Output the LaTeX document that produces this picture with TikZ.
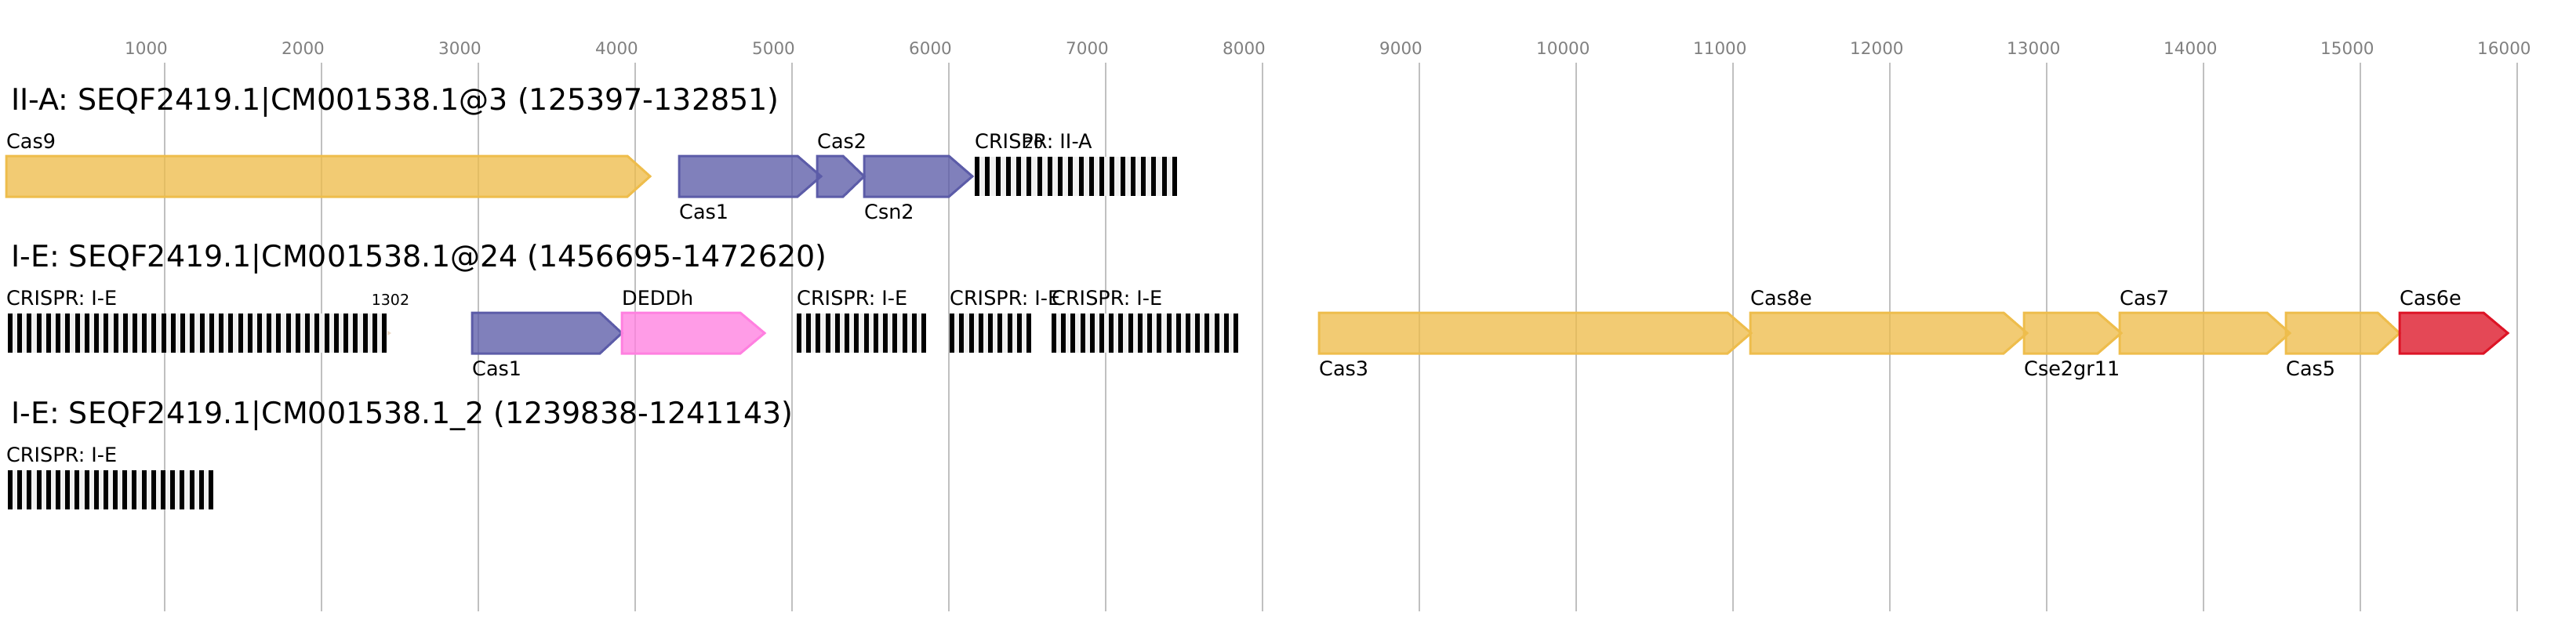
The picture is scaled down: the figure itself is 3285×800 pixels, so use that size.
\documentclass[tikz,border=0pt]{standalone}
\usepackage{fontspec}
\setmainfont{DejaVu Sans}
\definecolor{geneyel}{HTML}{EEBD4C}
\definecolor{geneblue}{HTML}{5C5CA8}
\definecolor{genepink}{HTML}{FF80E0}
\definecolor{genered}{HTML}{DD1426}
\definecolor{crbg}{HTML}{F0F0F0}
\definecolor{gridgray}{HTML}{C0C0C0}

\begin{document}
\begin{tikzpicture}[x=1pt, y=-1pt,
    gene/.style={line width=3pt, line join=miter, fill opacity=0.78},
    yel/.style={gene, draw=geneyel, fill=geneyel},
    blu/.style={gene, draw=geneblue, fill=geneblue},
    pnk/.style={gene, draw=genepink, fill=genepink},
    rd/.style={gene, draw=genered, fill=genered},
    lbl/.style={anchor=base west, inner sep=0pt, font=\fontsize{25.5}{30}\selectfont},
    ttl/.style={anchor=base west, inner sep=0pt, font=\fontsize{38}{44}\selectfont},
    small/.style={anchor=base, inner sep=0pt, font=\fontsize{19}{22}\selectfont},
    tick/.style={anchor=base west, inner sep=0pt, text=gray, font=\fontsize{21.5}{25}\selectfont}]
    \useasboundingbox (0,0) rectangle (3285,800);

    % grid and scale
    \foreach \k in {1,...,16} {
        \draw[gridgray, line width=2pt] (10+200*\k,80) -- (10+200*\k,780);
        \node[tick] (t\k) at (10+200*\k-51,70) {\k000};
    }

    % titles
    \node[ttl] (title1) at (14,140) {II-A: SEQF2419.1|CM001538.1@3 (125397-132851)};
    \node[ttl] (title2) at (14,340) {I-E: SEQF2419.1|CM001538.1@24 (1456695-1472620)};
    \node[ttl] (title3) at (14,540) {I-E: SEQF2419.1|CM001538.1\_2 (1239838-1241143)};

    % CRISPR arrays: start/end/centre/repeats
    \foreach \xa/\xb/\yc/\n in {1243/1501/225/20, 10/493/425/40, 1016/1181/425/14,
                                1211/1315/425/9, 1341/1579/425/20, 10/272/625/22} {
        \fill[crbg] (\xa,\yc-25) rectangle (\xb,\yc+25);
        \pgfmathsetmacro\p{(\xb-\xa-6)/(\n-1)}
        \foreach \i in {1,...,\n}
            \fill[black] (\xa+\i*\p-\p,\yc-25) rectangle ++(6,50);
    }
    \fill[brown!30] (494,422) -- (499,425) -- (494,428) -- cycle;

    % row 1
    \draw[yel] (8,199) -- (800,199) -- (829,225) -- (800,251) -- (8,251) -- cycle;
    \draw[blu] (866,199) -- (1017,199) -- (1047,225) -- (1017,251) -- (866,251) -- cycle;
    \draw[blu] (1042,199) -- (1075,199) -- (1102,225) -- (1075,251) -- (1042,251) -- cycle;
    \draw[blu] (1102,199) -- (1210,199) -- (1240,225) -- (1210,251) -- (1102,251) -- cycle;

    \node[lbl] (cas9) at (8,189) {Cas9};
    \node[lbl] (cas1a) at (866,279) {Cas1};
    \node[lbl] (cas2) at (1042,189) {Cas2};
    \node[lbl] (csn2) at (1102,279) {Csn2};
    \node[lbl] (cr1) at (1243,189) {CRISPR: II-A};
    \node[small] (n20) at (1318,189) {20};

    % row 2
    \draw[blu] (602,399) -- (765,399) -- (793,425) -- (765,451) -- (602,451) -- cycle;
    \draw[pnk] (793,399) -- (944,399) -- (975,425) -- (944,451) -- (793,451) -- cycle;
    \draw[yel] (1682,399) -- (2203,399) -- (2233,425) -- (2203,451) -- (1682,451) -- cycle;
    \draw[yel] (2232,399) -- (2555,399) -- (2585,425) -- (2555,451) -- (2232,451) -- cycle;
    \draw[yel] (2581,399) -- (2675,399) -- (2705,425) -- (2675,451) -- (2581,451) -- cycle;
    \draw[yel] (2703,399) -- (2891,399) -- (2920,425) -- (2891,451) -- (2703,451) -- cycle;
    \draw[yel] (2915,399) -- (3032,399) -- (3060,425) -- (3032,451) -- (2915,451) -- cycle;
    \draw[rd] (3060,399) -- (3167,399) -- (3198,425) -- (3167,451) -- (3060,451) -- cycle;

    \node[lbl] (cr2) at (8,389) {CRISPR: I-E};
    \node[small] (n1302) at (498,389) {1302};
    \node[lbl] (cas1b) at (602,479) {Cas1};
    \node[lbl] (deddh) at (793,389) {DEDDh};
    \node[lbl] (cr3) at (1016,389) {CRISPR: I-E};
    \node[lbl] (cr4) at (1211,389) {CRISPR: I-E};
    \node[lbl] (cr5) at (1341,389) {CRISPR: I-E};
    \node[lbl] (cas3) at (1682,479) {Cas3};
    \node[lbl] (cas8e) at (2232,389) {Cas8e};
    \node[lbl] (cse2) at (2581,479) {Cse2gr11};
    \node[lbl] (cas7) at (2703,389) {Cas7};
    \node[lbl] (cas5) at (2915,479) {Cas5};
    \node[lbl] (cas6e) at (3060,389) {Cas6e};

    % row 3
    \node[lbl] (cr6) at (8,589) {CRISPR: I-E};
\end{tikzpicture}
\end{document}
